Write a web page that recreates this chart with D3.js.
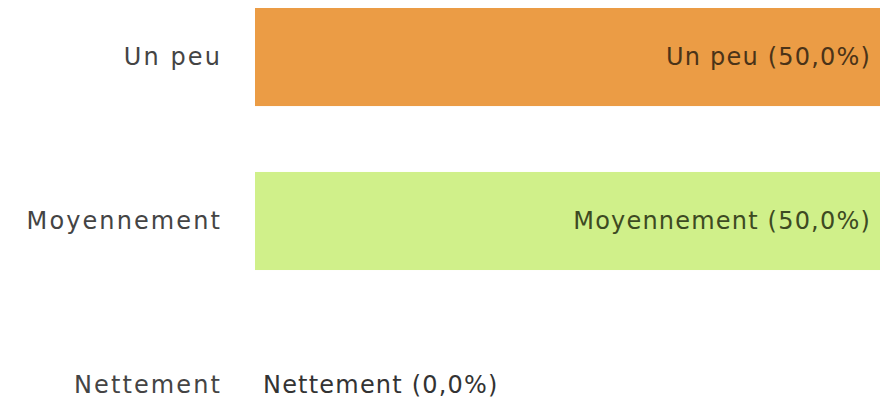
<!DOCTYPE html>
<html lang="fr">
<head>
    <meta charset="utf-8">
    <title>Barres</title>
    <script src="https://d3js.org/d3.v7.min.js"></script>
    <style type="text/css">
        body { margin: 0; background: #fff; }
        text { font-family: "DejaVu Sans", sans-serif; font-size: 24px; letter-spacing: 2.1px; }
        text.value { letter-spacing: 1.2px; }
    </style>
</head>
<body>
    <script type="text/javascript">

        // data
        const categories = ["Un peu", "Moyennement", "Nettement"];
        const shares = [0.5, 0.5, 0.0];
        const colors = ["#eb9c45", "#d0f08a", "#cccccc"];
        const textColors = ["#4a3318", "#3d4a22", "#333333"];

        const width = 880;
        const height = 404;

        const svg = d3.select("body").append("svg")
            .attr("width", width)
            .attr("height", height);

        // band step ~164px, bars ~98px tall
        const y = d3.scaleBand()
            .domain(categories)
            .range([8, 434])
            .paddingInner(0.402)
            .paddingOuter(0);

        const x = d3.scaleLinear()
            .domain([0, d3.max(shares)])
            .range([255, 880]);

        const fmt = v => d3.format(".1%")(v).replace(".", ",");

        const rows = svg.selectAll("g.row")
            .data(categories)
            .enter()
            .append("g")
            .attr("class", "row");

        rows.append("rect")
            .attr("x", x(0))
            .attr("y", d => y(d))
            .attr("width", (d, i) => x(shares[i]) - x(0))
            .attr("height", y.bandwidth())
            .attr("fill", (d, i) => colors[i]);

        // category labels on the left
        rows.append("text")
            .attr("x", 222)
            .attr("y", d => y(d) + y.bandwidth() / 2)
            .attr("dy", "0.35em")
            .attr("text-anchor", "end")
            .attr("fill", "#444")
            .text(d => d);

        // value labels: inside the bar if there is room, else after it
        rows.append("text")
            .attr("class", "value")
            .attr("x", (d, i) => shares[i] > 0 ? x(shares[i]) - 9 : x(0) + 8)
            .attr("y", d => y(d) + y.bandwidth() / 2)
            .attr("dy", "0.35em")
            .attr("text-anchor", (d, i) => shares[i] > 0 ? "end" : "start")
            .attr("fill", (d, i) => textColors[i])
            .text((d, i) => d + " (" + fmt(shares[i]) + ")");

    </script>
</body>
</html>
